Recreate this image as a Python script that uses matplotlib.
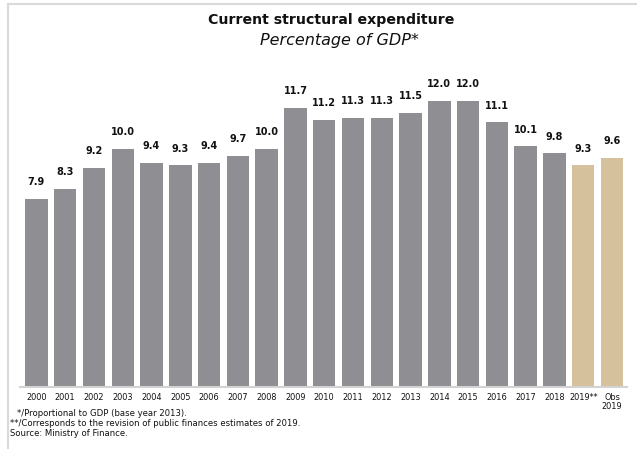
import numpy as np
import matplotlib
matplotlib.use("Agg")
import matplotlib.pyplot as plt
from matplotlib.lines import Line2D

# Current structural expenditure, % of GDP
years = ["2000", "2001", "2002", "2003", "2004", "2005", "2006", "2007", "2008",
         "2009", "2010", "2011", "2012", "2013", "2014", "2015", "2016", "2017",
         "2018", "2019**", "Obs\n2019"]
values = [7.9, 8.3, 9.2, 10.0, 9.4, 9.3, 9.4, 9.7, 10.0, 11.7, 11.2, 11.3,
          11.3, 11.5, 12.0, 12.0, 11.1, 10.1, 9.8, 9.3, 9.6]
highlight = [False] * 19 + [True, True]

footnotes = [
    "*/Proportional to GDP (base year 2013).",
    "**/Corresponds to the revision of public finances estimates of 2019.",
    "Source: Ministry of Finance.",
]
footnote_x = [17, 10, 10]

gray = "#8f8e93"
tan = "#d5c29c"
text_color = "#111111"

plt.rcParams["font.family"] = ["DejaVu Sans"]

W, H = 637, 449
fig = plt.figure(figsize=(W / 100, H / 100), dpi=100)

# Frame: top and left edges only
fig.add_artist(Line2D([8 / W, 636 / W], [1 - 4 / H, 1 - 4 / H],
                      color="#dadada", lw=1.5, transform=fig.transFigure))
fig.add_artist(Line2D([8 / W, 8 / W], [0, 1 - 4 / H],
                      color="#dadada", lw=1.5, transform=fig.transFigure))

ax = fig.add_axes([20 / W, 1 - 387 / H, 607 / W, 321.7 / H])

x = np.arange(len(values))
colors = [tan if h else gray for h in highlight]
ax.bar(x, values, width=0.78, color=colors, zorder=2)

for xi, v in zip(x, values):
    ax.annotate(f"{v:.1f}", (xi, v), xytext=(0, 8.5), textcoords="offset points",
                ha="center", va="bottom", fontsize=7.0, fontweight="bold",
                color=text_color)

ax.set_xlim(-0.57, 20.52)
ax.set_ylim(0, 13.5)
ax.set_xticks(x)
ax.set_xticklabels(years, fontsize=5.9, color=text_color, linespacing=1.0)
ax.tick_params(axis="x", length=0, pad=4)
ax.set_yticks([])

for side in ["top", "right", "left"]:
    ax.spines[side].set_visible(False)
ax.spines["bottom"].set_color("#d3d3d3")
ax.spines["bottom"].set_linewidth(1.5)

fig.text(331 / W, 1 - 20 / H, "Current structural expenditure", ha="center",
         va="center", fontsize=10.2, fontweight="bold", color=text_color)
fig.text(339 / W, 1 - 40 / H, "Percentage of GDP*", ha="center", va="center",
         fontsize=11.5, style="italic", color=text_color)

for i, (line, fx) in enumerate(zip(footnotes, footnote_x)):
    fig.text(fx / W, 1 - (413 + 10 * i) / H, line, ha="left", va="center",
             fontsize=6.1, color=text_color)

fig.savefig("out.png", dpi=100)
